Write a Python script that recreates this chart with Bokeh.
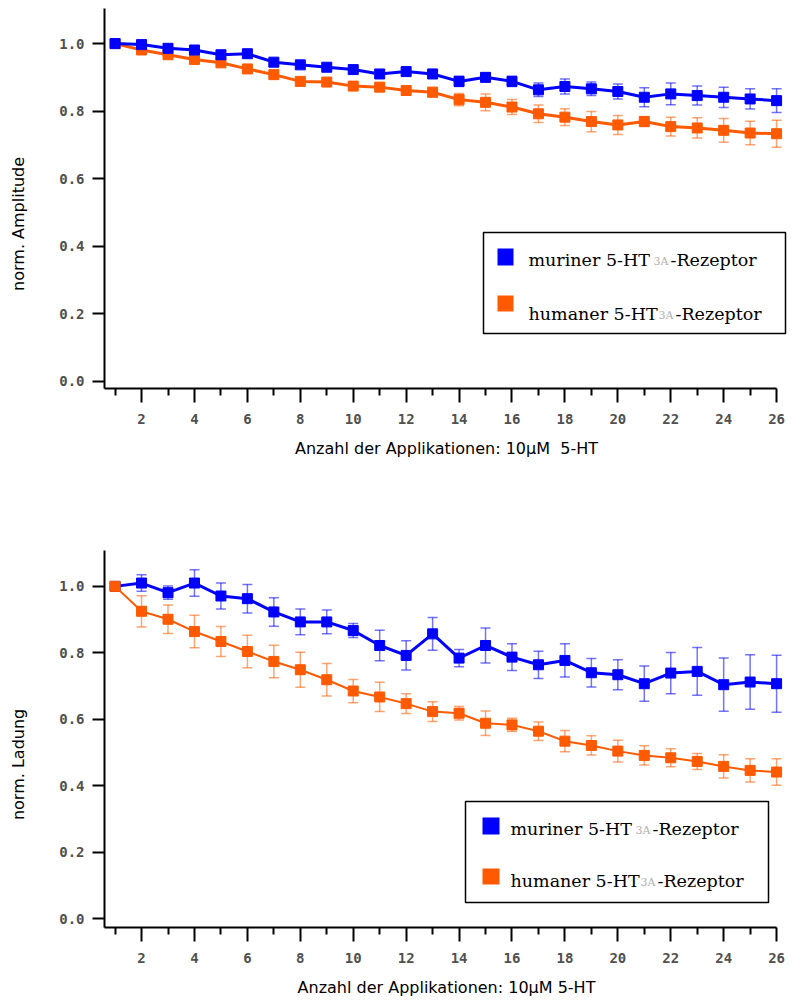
import math
from bokeh.plotting import figure
from bokeh.models import (ColumnDataSource, Whisker, TeeHead, Range1d, FixedTicker,
                          PrintfTickFormatter, Label, BoxAnnotation)
from bokeh.layouts import column
from bokeh.embed import file_html
from bokeh.resources import INLINE

# ---------------- data ----------------
applications = [1, 2, 3, 4, 5, 6, 7, 8, 9, 10, 11, 12, 13,
                14, 15, 16, 17, 18, 19, 20, 21, 22, 23, 24, 25, 26]
x_major_ticks = [2, 4, 6, 8, 10, 12, 14, 16, 18, 20, 22, 24, 26]
x_minor_ticks = [1, 3, 5, 7, 9, 11, 13, 15, 17, 19, 21, 23, 25]
y_ticks = [0.0, 0.2, 0.4, 0.6, 0.8, 1.0]

# norm. Amplitude
amp_murine = [1.000, 0.997, 0.986, 0.981, 0.967, 0.970, 0.945, 0.937, 0.930, 0.923,
              0.910, 0.917, 0.910, 0.888, 0.900, 0.888, 0.863, 0.873, 0.866, 0.858,
              0.841, 0.851, 0.846, 0.841, 0.836, 0.831]
amp_murine_err = [0.000, 0.004, 0.005, 0.006, 0.007, 0.008, 0.009, 0.010, 0.010, 0.011,
                  0.012, 0.012, 0.013, 0.015, 0.012, 0.015, 0.020, 0.022, 0.020, 0.022,
                  0.028, 0.032, 0.028, 0.030, 0.030, 0.035]
amp_human = [1.000, 0.981, 0.967, 0.953, 0.943, 0.925, 0.908, 0.888, 0.886, 0.874,
             0.871, 0.861, 0.856, 0.834, 0.826, 0.812, 0.792, 0.782, 0.769, 0.759,
             0.769, 0.754, 0.750, 0.743, 0.735, 0.733]
amp_human_err = [0.000, 0.005, 0.006, 0.007, 0.008, 0.009, 0.010, 0.010, 0.011, 0.011,
                 0.012, 0.012, 0.014, 0.018, 0.025, 0.022, 0.026, 0.025, 0.030, 0.028,
                 0.015, 0.028, 0.030, 0.035, 0.035, 0.040]

# norm. Ladung
chg_murine = [1.000, 1.010, 0.981, 1.010, 0.971, 0.963, 0.923, 0.893, 0.893, 0.867,
              0.822, 0.792, 0.857, 0.784, 0.822, 0.787, 0.764, 0.777, 0.740, 0.734,
              0.707, 0.739, 0.744, 0.704, 0.712, 0.707]
chg_murine_err = [0.000, 0.025, 0.020, 0.040, 0.039, 0.043, 0.043, 0.039, 0.036, 0.021,
                  0.046, 0.044, 0.049, 0.026, 0.053, 0.040, 0.041, 0.050, 0.043, 0.045,
                  0.053, 0.062, 0.072, 0.080, 0.082, 0.086]
chg_human = [1.000, 0.925, 0.901, 0.864, 0.834, 0.804, 0.774, 0.749, 0.719, 0.685,
             0.667, 0.647, 0.623, 0.618, 0.588, 0.583, 0.564, 0.534, 0.521, 0.504,
             0.491, 0.484, 0.473, 0.458, 0.446, 0.441]
chg_human_err = [0.000, 0.047, 0.043, 0.049, 0.045, 0.049, 0.049, 0.053, 0.049, 0.035,
                 0.044, 0.030, 0.030, 0.020, 0.037, 0.020, 0.028, 0.032, 0.029, 0.033,
                 0.029, 0.027, 0.024, 0.035, 0.035, 0.040]

legend_names = ["muriner 5-HT", "humaner 5-HT"]
legend_sub = "3A"
legend_suffix = "-Rezeptor"

BLUE = "#0000ff"
ORANGE = "#ff5a00"
PAD = "\u00a0" * 10  # shifts the rotated y title a little below the frame centre


def make_source(vals, errs):
    return ColumnDataSource(dict(
        x=applications, y=vals,
        upper=[v + e for v, e in zip(vals, errs)],
        lower=[v - e for v, e in zip(vals, errs)],
    ))


def add_series(p, src, color, lw):
    w = Whisker(base="x", upper="upper", lower="lower", source=src,
                line_color=color, line_alpha=0.55, line_width=1.5,
                upper_head=TeeHead(size=10, line_color=color, line_alpha=0.55, line_width=1.5),
                lower_head=TeeHead(size=10, line_color=color, line_alpha=0.55, line_width=1.5))
    p.add_layout(w)
    p.line("x", "y", source=src, line_color=color, line_width=lw)
    p.scatter("x", "y", source=src, marker="square", size=10,
              fill_color=color, line_color=color)


def make_panel(height, b_top, b_bottom, y_start, y_end, ytitle, xtitle,
               series, leg):
    p = figure(width=792, height=height, output_backend="svg", toolbar_location=None,
               x_range=Range1d(0.6, 26.45), y_range=Range1d(y_start, y_end),
               min_border_left=104, min_border_right=4,
               min_border_top=b_top, min_border_bottom=b_bottom)
    p.outline_line_color = None
    p.xgrid.grid_line_color = None
    p.ygrid.grid_line_color = None
    p.background_fill_color = "white"
    p.border_fill_color = "white"

    xa = p.xaxis[0]
    xa.ticker = FixedTicker(ticks=x_major_ticks, minor_ticks=x_minor_ticks)
    xa.bounds = (0.6, 26)
    xa.axis_line_width = 2
    xa.major_tick_line_width = 2
    xa.minor_tick_line_width = 2
    xa.major_tick_out = 14
    xa.major_tick_in = 0
    xa.minor_tick_out = 7
    xa.minor_tick_in = 0
    xa.major_label_standoff = 11
    xa.major_label_text_font = "DejaVu Sans Mono"
    xa.major_label_text_font_style = "bold"
    xa.major_label_text_font_size = "14px"
    xa.major_label_text_color = "#505050"
    xa.axis_label = xtitle
    xa.axis_label_text_font = "DejaVu Sans"
    xa.axis_label_text_font_style = "normal"
    xa.axis_label_text_font_size = "16px"
    xa.axis_label_text_color = "black"
    xa.axis_label_standoff = 12

    ya = p.yaxis[0]
    ya.ticker = FixedTicker(ticks=y_ticks, minor_ticks=[])
    ya.formatter = PrintfTickFormatter(format="%.1f")
    ya.axis_line_width = 2
    ya.major_tick_line_width = 2
    ya.major_tick_out = 12
    ya.major_tick_in = 0
    ya.minor_tick_out = 0
    ya.minor_tick_in = 0
    ya.major_label_standoff = 8
    ya.major_label_text_font = "DejaVu Sans Mono"
    ya.major_label_text_font_style = "bold"
    ya.major_label_text_font_size = "14px"
    ya.major_label_text_color = "#505050"
    ya.axis_label = ytitle + PAD
    ya.axis_label_text_font = "DejaVu Sans"
    ya.axis_label_text_font_style = "normal"
    ya.axis_label_text_font_size = "16px"
    ya.axis_label_text_color = "black"
    ya.axis_label_standoff = 28

    for src, color, lw in series:
        add_series(p, src, color, lw)

    # legend
    p.add_layout(BoxAnnotation(left=leg["box"][0], right=leg["box"][1],
                               top=leg["box"][2], bottom=leg["box"][3],
                               left_units="screen", right_units="screen",
                               top_units="screen", bottom_units="screen",
                               fill_color="white", fill_alpha=1.0,
                               line_color="black", line_width=1.5, line_alpha=1.0))
    for i, color in enumerate([BLUE, ORANGE]):
        sq = leg["squares"][i]
        p.add_layout(BoxAnnotation(left=sq[0], right=sq[1], top=sq[2], bottom=sq[3],
                                   left_units="screen", right_units="screen",
                                   top_units="screen", bottom_units="screen",
                                   fill_color=color, fill_alpha=1.0,
                                   line_color=None))
        tx, sub_x, suf_x, base_y = leg["rows"][i]
        p.add_layout(Label(x=tx, y=base_y, x_units="screen", y_units="screen",
                           text=legend_names[i], text_font="DejaVu Serif",
                           text_font_size="17.5px", text_color="black",
                           text_baseline="alphabetic"))
        p.add_layout(Label(x=sub_x, y=base_y - 2, x_units="screen", y_units="screen",
                           text=legend_sub, text_font="DejaVu Serif",
                           text_font_size="11px", text_color="#b0b0b0",
                           text_baseline="alphabetic"))
        p.add_layout(Label(x=suf_x, y=base_y, x_units="screen", y_units="screen",
                           text=legend_suffix, text_font="DejaVu Serif",
                           text_font_size="17.5px", text_color="black",
                           text_baseline="alphabetic"))
    return p


p1 = make_panel(
    470, 8, 82, -0.022, 1.104, "norm. Amplitude",
    "Anzahl der Applikationen: 10\u00b5M\u00a0 5-HT",
    [(make_source(amp_human, amp_human_err), ORANGE, 3),
     (make_source(amp_murine, amp_murine_err), BLUE, 3)],
    dict(box=(379, 681, 156, 55),
         squares=[(393, 409, 140, 123), (393, 409, 93, 77)],
         rows=[(424, 549, 566, 129), (424, 554, 571, 75)]))

p2 = make_panel(
    533, 80, 76, -0.027, 1.108, "norm. Ladung",
    "Anzahl der Applikationen: 10\u00b5M 5-HT",
    [(make_source(chg_murine, chg_murine_err), BLUE, 3),
     (make_source(chg_human, chg_human_err), ORANGE, 2)],
    dict(box=(361, 664, 126, 25),
         squares=[(378, 395, 110, 93), (378, 395, 59, 43)],
         rows=[(406, 531, 548, 99), (406, 536, 553, 47)]))

layout = column(p1, p2, spacing=0)
open("out.html", "w").write(file_html(layout, INLINE))
